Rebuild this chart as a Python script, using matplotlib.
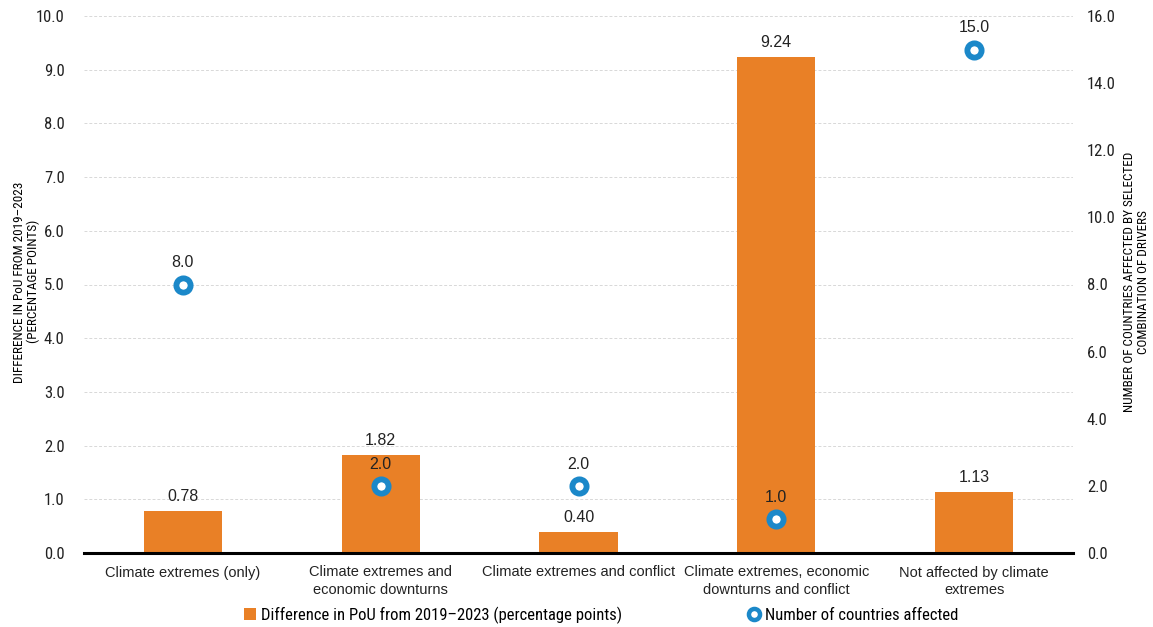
import matplotlib
matplotlib.use("Agg")
import matplotlib.pyplot as plt
from matplotlib.lines import Line2D
from matplotlib.patches import Patch

# data
categories = [
    "Climate extremes (only)",
    "Climate extremes and\neconomic downturns",
    "Climate extremes and conflict",
    "Climate extremes, economic\ndownturns and conflict",
    "Not affected by climate\nextremes",
]
pou_diff = [0.78, 1.82, 0.40, 9.24, 1.13]
n_countries = [8.0, 2.0, 2.0, 1.0, 15.0]
left_ticks = [0, 1, 2, 3, 4, 5, 6, 7, 8, 9, 10]
right_ticks = [0, 2, 4, 6, 8, 10, 12, 14, 16]

ORANGE = "#e98026"
BLUE = "#1b88c9"
NARROW = ["Liberation Sans Narrow", "Roboto Condensed", "Open Sans Condensed",
          "Liberation Sans", "DejaVu Sans"]
REG = ["Liberation Sans", "DejaVu Sans"]

fig = plt.figure(figsize=(11.53, 6.27), dpi=100)
ax = fig.add_axes([84 / 1153, 1 - 553 / 627, (1073 - 84) / 1153, (553 - 16) / 627])
ax2 = ax.twinx()

x = list(range(len(categories)))
ax.bar(x, pou_diff, width=0.395, color=ORANGE, zorder=2)
for xi, v in zip(x, pou_diff):
    ax.text(xi, v + 0.13, f"{v:.2f}", ha="center", va="bottom", fontsize=11.5,
            family=REG, color="#222222")

ax.set_xlim(-0.5, 4.5)
ax.set_ylim(0, 10)
ax.set_yticks(left_ticks)
ax.set_yticklabels([f"{t:.1f}" for t in left_ticks], family=NARROW,
                   stretch="condensed", fontsize=12)
ax.set_xticks(x)
ax.set_xticklabels(categories, family=REG, fontsize=10.5, linespacing=1.3)
ax.tick_params(axis="both", length=0, pad=14, colors="#222222")
ax.tick_params(axis="x", pad=9)
ax.grid(axis="y", color="#d8d8d8", linestyle=(0, (3, 2)), linewidth=0.7, zorder=0)
ax.set_axisbelow(True)
for s in ["top", "right", "left"]:
    ax.spines[s].set_visible(False)
ax.spines["bottom"].set_linewidth(2.2)
ax.spines["bottom"].set_color("black")
ax.set_ylabel("DIFFERENCE IN PoU FROM 2019\u20132023\n(PERCENTAGE POINTS)",
              family=NARROW, stretch="condensed", fontsize=9.5, linespacing=1.1)
ax.yaxis.set_label_coords(-44 / 989, 0.505)

ax2.scatter(x, n_countries, s=105, facecolor="white", edgecolor=BLUE,
            linewidth=4.2, zorder=5)
for xi, v in zip(x, n_countries):
    ax2.text(xi, v + 0.42, f"{v:.1f}", ha="center", va="bottom", fontsize=11.5,
             family=REG, color="#222222")
ax2.set_ylim(0, 16)
ax2.set_yticks(right_ticks)
ax2.set_yticklabels([f"{t:.1f}" for t in right_ticks], family=NARROW,
                    stretch="condensed", fontsize=12)
ax2.tick_params(axis="y", length=0, pad=10, colors="#222222")
for s in ["top", "right", "left", "bottom"]:
    ax2.spines[s].set_visible(False)
ax2.set_ylabel("NUMBER OF COUNTRIES AFFECTED BY SELECTED\nCOMBINATION OF DRIVERS",
               family=NARROW, stretch="condensed", fontsize=9.5, linespacing=1.1)
ax2.yaxis.set_label_coords(1 + 50 / 989, 0.505)

bar_handle = Patch(facecolor=ORANGE, edgecolor="none")
dot_handle = Line2D([], [], marker="o", linestyle="none", markersize=8,
                    markerfacecolor="white", markeredgecolor=BLUE, markeredgewidth=3.2)
leg_kw = dict(frameon=False, handlelength=0.7, handletextpad=0.3, borderpad=0,
              prop={"family": NARROW, "stretch": "condensed", "size": 12})
fig.legend([bar_handle], ["Difference in PoU from 2019\u20132023 (percentage points)"],
           loc="center left", bbox_to_anchor=(236 / 1153, 1 - 615 / 627), **leg_kw)
fig.legend([dot_handle], ["Number of countries affected"],
           loc="center left", bbox_to_anchor=(740 / 1153, 1 - 615 / 627), **leg_kw)

fig.savefig("out.png", dpi=100)
